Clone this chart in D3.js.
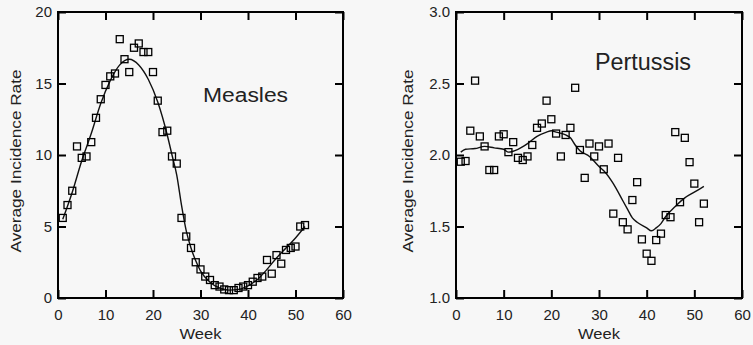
<!DOCTYPE html>
<html lang="en">
<head>
    <meta charset="UTF-8" />
    <title>Measles and Pertussis weekly incidence</title>
    <script src="https://cdn.jsdelivr.net/npm/d3@7"></script>
    <style>
        body { margin: 0; background: #f7f7f7; }
        text { font-family: "Liberation Sans", Arial, sans-serif; fill: #222; }
    </style>
</head>
<body>
    <div id="chart"></div>

    <script>

        // weekly observations, weeks 1..52
        const weeks = d3.range(1, 53)

        const measles = [5.6, 6.5, 7.5, 10.6, 9.8, 9.9, 10.9, 12.6, 13.9, 14.9,
            15.5, 15.7, 18.1, 16.7, 15.8, 17.5, 17.8, 17.2, 17.2, 15.8,
            13.8, 11.6, 11.7, 9.9, 9.4, 5.6, 4.3, 3.5, 2.5, 2.0,
            1.5, 1.26, 0.9, 0.8, 0.6, 0.55, 0.55, 0.7, 0.8, 0.9,
            1.14, 1.4, 1.5, 2.66, 1.7, 3.0, 2.4, 3.36, 3.5, 3.6,
            5.0, 5.1]

        const pertussis = [1.953, 1.958, 2.17, 2.52, 2.13, 2.06, 1.895, 1.895, 2.13, 2.145,
            2.02, 2.09, 1.98, 1.965, 1.99, 2.07, 2.19, 2.22, 2.38, 2.25,
            2.15, 1.99, 2.14, 2.19, 2.47, 2.035, 1.84, 2.08, 1.99, 2.06,
            1.90, 2.08, 1.59, 1.98, 1.53, 1.48, 1.685, 1.81, 1.41, 1.31,
            1.26, 1.405, 1.45, 1.58, 1.565, 2.16, 1.67, 2.12, 1.95, 1.80,
            1.53, 1.66]

        // fitted curves
        const measlesFitWeeks = [1, 3, 5, 7, 9, 11, 13, 15, 17, 19, 21, 23, 24, 25, 26, 27, 28, 29, 30, 32, 34, 36, 38, 40, 42, 44, 46, 48, 50, 52]
        const measlesFit = [5.5, 7.4, 9.6, 11.5, 13.6, 15.2, 16.3, 16.7, 16.3, 15.3, 13.7, 11.4, 10.0, 8.6, 6.5, 4.7, 3.5, 2.6, 1.9, 1.1, 0.7, 0.55, 0.6, 0.85, 1.3, 2.0, 2.8, 3.5, 4.2, 5.0]

        const pertussisFitWeeks = [1, 2, 4, 6, 8, 10, 11, 13, 15, 17, 19, 20, 21, 23, 24, 25, 26, 28, 30, 31, 33, 35, 36, 37, 38, 40, 41, 42, 43, 44, 46, 48, 50, 52]
        const pertussisFit = [2.02, 2.04, 2.045, 2.06, 2.05, 2.04, 2.02, 2.04, 2.08, 2.13, 2.16, 2.17, 2.16, 2.14, 2.12, 2.07, 2.03, 1.99, 1.92, 1.89, 1.80, 1.68, 1.62, 1.56, 1.53, 1.49, 1.47, 1.49, 1.52, 1.57, 1.64, 1.70, 1.74, 1.78]

        const xTicks = [0, 10, 20, 30, 40, 50, 60]
        const measlesTicks = [0, 5, 10, 15, 20]
        const pertussisTicks = [1.0, 1.5, 2.0, 2.5, 3.0]

        const svg = d3.select("#chart")
            .append("svg")
            .attr("width", 753)
            .attr("height", 345)

        function panel(opts) {
            const x = d3.scaleLinear().domain([0, 60]).range([opts.left, opts.right])
            const y = d3.scaleLinear().domain(opts.yDomain).range([298, 12])
            const g = svg.append("g")

            // bottom axis with inward ticks, the other three sides get ticks only
            g.append("g")
                .attr("transform", "translate(0,298)")
                .call(d3.axisBottom(x).tickValues(xTicks).tickSize(-8).tickSizeOuter(0).tickPadding(11))
            g.append("g")
                .attr("transform", "translate(0,12)")
                .call(d3.axisTop(x).tickValues(xTicks).tickSize(-8).tickSizeOuter(0).tickFormat(""))
            g.append("g")
                .attr("transform", `translate(${opts.left},0)`)
                .call(d3.axisLeft(y).tickValues(opts.yTicks).tickSize(-8).tickSizeOuter(0).tickPadding(6).tickFormat(opts.fmt))
            g.append("g")
                .attr("transform", `translate(${opts.right},0)`)
                .call(d3.axisRight(y).tickValues(opts.yTicks).tickSize(-8).tickSizeOuter(0).tickFormat(""))

            g.selectAll(".tick line").attr("stroke", "#000").attr("stroke-width", 2)
            g.selectAll(".domain").attr("stroke", "none")
            g.selectAll(".tick text")
                .style("font-size", "15px")
                .attr("fill", "#222")

            g.append("rect")
                .attr("x", opts.left)
                .attr("y", 12)
                .attr("width", opts.right - opts.left)
                .attr("height", 286)
                .attr("fill", "none")
                .attr("stroke", "#000")
                .attr("stroke-width", 2)

            // fitted line
            g.append("path")
                .datum(opts.fitWeeks.map((w, i) => [w, opts.fit[i]]))
                .attr("fill", "none")
                .attr("stroke", "#111")
                .attr("stroke-width", 1.4)
                .attr("d", d3.line().x(d => x(d[0])).y(d => y(d[1])).curve(d3.curveMonotoneX))

            // observed weekly values
            g.selectAll("rect.pt")
                .data(weeks.map((w, i) => [w, opts.values[i]]))
                .join("rect")
                .attr("class", "pt")
                .attr("x", d => x(d[0]) - 3.5)
                .attr("y", d => y(d[1]) - 3.5)
                .attr("width", 7)
                .attr("height", 7)
                .attr("fill", "none")
                .attr("stroke", "#000")
                .attr("stroke-width", 1.3)

            // axis titles
            g.append("text")
                .attr("x", (opts.left + opts.right) / 2)
                .attr("y", 339)
                .attr("text-anchor", "middle")
                .attr("textLength", 42)
                .attr("lengthAdjust", "spacingAndGlyphs")
                .style("font-size", "15px")
                .text("Week")
            g.append("text")
                .attr("transform", `translate(${opts.labelX},161) rotate(-90)`)
                .attr("text-anchor", "middle")
                .attr("dy", "0.35em")
                .attr("textLength", 183)
                .attr("lengthAdjust", "spacingAndGlyphs")
                .style("font-size", "15.5px")
                .text("Average Incidence Rate")

            // disease name
            g.append("text")
                .attr("x", opts.nameX)
                .attr("y", opts.nameY)
                .attr("textLength", opts.nameW)
                .attr("lengthAdjust", "spacingAndGlyphs")
                .style("font-size", opts.nameSize + "px")
                .text(opts.name)
        }

        panel({
            left: 58, right: 343, yDomain: [0, 20], yTicks: measlesTicks, fmt: d3.format("d"),
            values: measles, fitWeeks: measlesFitWeeks, fit: measlesFit, labelX: 16,
            name: "Measles", nameX: 203, nameY: 102, nameW: 85, nameSize: 20
        })

        panel({
            left: 456, right: 742, yDomain: [1, 3], yTicks: pertussisTicks, fmt: d3.format(".1f"),
            values: pertussis, fitWeeks: pertussisFitWeeks, fit: pertussisFit, labelX: 408,
            name: "Pertussis", nameX: 595, nameY: 70, nameW: 96, nameSize: 23
        })

    </script>
</body>
</html>
